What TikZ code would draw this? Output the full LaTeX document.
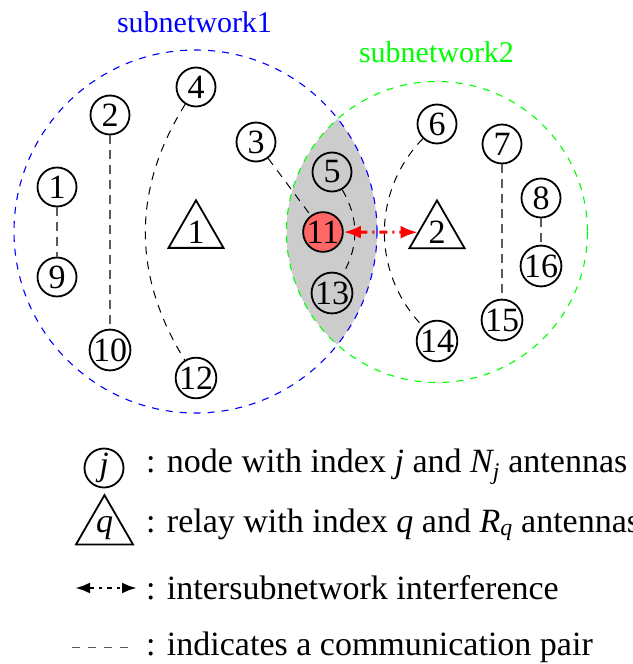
\documentclass[tikz,border=0pt]{standalone}
\usepackage{fontspec}
\setmainfont{Liberation Serif}
\usetikzlibrary{arrows.meta,shapes.geometric}
\definecolor{netblue}{RGB}{0,0,255}
\definecolor{netgreen}{RGB}{0,255,0}
\definecolor{overlapgray}{RGB}{204,204,204}
\definecolor{hitred}{RGB}{255,102,102}
\definecolor{pairgray}{RGB}{90,90,90}

\begin{document}
\begin{tikzpicture}[x=1pt,y=-1pt,
  nd/.style={circle,draw,line width=1.8pt,minimum size=39pt,inner sep=0pt,
             font=\fontsize{34}{34}\selectfont},
  relay/.style={regular polygon,regular polygon sides=3,draw,line width=1.8pt,
                minimum size=62pt,inner sep=0pt,font=\fontsize{34}{34}\selectfont},
  net/.style={dash pattern=on 7pt off 7pt,line width=1.1pt},
  pair/.style={dash pattern=on 9pt off 6pt,line width=1.3pt,pairgray},
  link/.style={dash pattern=on 8pt off 7pt,line width=1pt},
  intf/.style={{Latex[length=17pt,width=13pt]}-{Latex[length=17pt,width=13pt]},
               line width=3pt,red,dash pattern=on 8pt off 5pt on 2pt off 5pt},
  lgdintf/.style={{Latex[length=15pt,width=11pt]}-{Latex[length=15pt,width=11pt]},
                  line width=2.8pt,dash pattern=on 5pt off 5pt on 3pt off 5pt},
  lgd/.style={anchor=base west,inner sep=0pt,font=\fontsize{34}{34}\selectfont},
  ttl/.style={anchor=base,inner sep=0pt,font=\fontsize{30}{30}\selectfont}
]
  \useasboundingbox (0,0) rectangle (632,664);

  % overlap of the two subnetworks
  \begin{scope}
    \clip (195.5,231.5) circle[radius=181.5];
    \fill[overlapgray] (437,232) circle[radius=150.5];
  \end{scope}
  \draw[net,netblue]  (195.5,231.5) circle[radius=181.5];
  \draw[net,netgreen] (437,232) circle[radius=150.5];

  \node[ttl,text=netblue]  (sub1) at (194.5,32) {subnetwork1};
  \node[ttl,text=netgreen] (sub2) at (436.5,62) {subnetwork2};

  % relays
  \node[relay] (r1) at (196,232) {1};
  \node[relay] (r2) at (437,232.3) {2};

  % nodes
  \node[nd] (n1)  at (57,187)  {1};
  \node[nd] (n2)  at (110,115) {2};
  \node[nd] (n3)  at (256,142) {3};
  \node[nd] (n4)  at (196,87)  {4};
  \node[nd] (n5)  at (332,172) {5};
  \node[nd] (n6)  at (437,124) {6};
  \node[nd] (n7)  at (502,144) {7};
  \node[nd] (n8)  at (541,198) {8};
  \node[nd] (n9)  at (57,277)  {9};
  \node[nd] (n10) at (110,350) {10};
  \node[nd,fill=hitred] (n11) at (323,232) {11};
  \node[nd] (n12) at (196,378) {12};
  \node[nd] (n13) at (332,293) {13};
  \node[nd] (n14) at (437,341) {14};
  \node[nd] (n15) at (502,320) {15};
  \node[nd] (n16) at (541,266) {16};

  % communication pairs
  \draw[pair] (n1) -- (n9);
  \draw[pair] (n2) -- (n10);
  \draw[pair] (n7) -- (n15);
  \draw[pair] (n8) -- (n16);
  \draw[link] (n3) -- (n11);
  \draw[link] (n4) to[bend right=32] (n12);
  \draw[link] (n5) to[bend left=30] (n13);
  \draw[link] (n6) to[bend right=44] (n14);

  \draw[intf] (n11) -- (r2);

  % legend
  \node[nd] (lnode) at (104,468) {\textit{j}};
  \node[relay] (lrelay) at (104.5,528) {\textit{q}};
  \coordinate (la) at (75,588);
  \coordinate (lb) at (137,588);
  \draw[lgdintf] (la) -- (lb);
  \coordinate (lc) at (72,647);
  \coordinate (ld) at (130,647);
  \draw[pairgray,line width=1pt,dash pattern=on 8pt off 8pt] (lc) -- (ld);

  \node[lgd] (t1) at (146,472) {: node with index \textit{j} and $\mathit{N}_{\mathit{j}}$ antennas};
  \node[lgd] (t2) at (146,532) {: relay with index \textit{q} and $\mathit{R}_{\mathit{q}}$ antennas};
  \node[lgd] (t3) at (146,599) {: intersubnetwork interference};
  \node[lgd] (t4) at (146,655) {: indicates a communication pair};
\end{tikzpicture}
\end{document}
